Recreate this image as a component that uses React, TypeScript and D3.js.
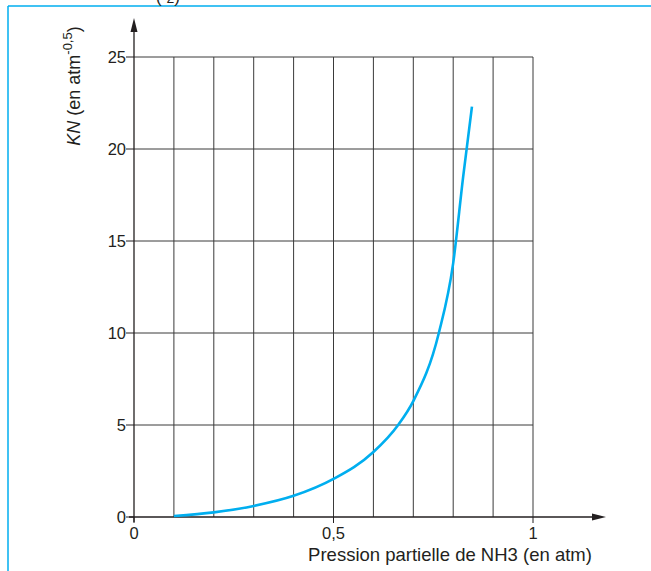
import React from "react";
import * as d3 from "d3";

const pressure = [0.1, 0.2, 0.3, 0.4, 0.5, 0.6, 0.662, 0.7, 0.764, 0.8, 0.825, 0.847];
const kn = [0.05, 0.25, 0.6, 1.15, 2.07, 3.53, 5, 6.3, 10, 13.8, 18.5, 22.3];
const yTicks = [0, 5, 10, 15, 20, 25];
const xGrid = [0.1, 0.2, 0.3, 0.4, 0.5, 0.6, 0.7, 0.8, 0.9, 1.0];
const xTickLabels = [
  { v: 0, label: "0" },
  { v: 0.5, label: "0,5" },
  { v: 1, label: "1" },
];

export default function App() {
  const W = 651, H = 571;
  const x = d3.scaleLinear().domain([0, 1]).range([134, 533]);
  const y = d3.scaleLinear().domain([0, 25]).range([517, 57]);
  const pts = pressure.map((p, i) => [p, kn[i]] as [number, number]);
  const line = d3
    .line<[number, number]>()
    .x((d) => x(d[0]))
    .y((d) => y(d[1]))
    .curve(d3.curveMonotoneX);
  const font = "'Liberation Sans', Arial, sans-serif";
  const axisColor = "#231f20";
  const gridColor = "#3a3a3a";
  return (
    <svg
      width={W}
      height={H}
      style={{ position: "absolute", left: 0, top: 0, background: "#fff" }}
      fontFamily={font}
    >
      {/* frame */}
      <line x1={8} y1={6} x2={W} y2={6} stroke="#00aeef" strokeWidth={1.5} />
      <line x1={8} y1={6} x2={8} y2={H} stroke="#00aeef" strokeWidth={1.5} />
      <text x={156} y={3} fontSize={17} fill={axisColor}>
        (   <tspan fontSize={14}>2</tspan>)
      </text>
      {/* grid */}
      {xGrid.map((v) => (
        <line key={"gx" + v} x1={x(v)} x2={x(v)} y1={y(25)} y2={y(0)} stroke={gridColor} strokeWidth={1} />
      ))}
      {yTicks.filter((t) => t > 0).map((t) => (
        <line key={"gy" + t} x1={x(0)} x2={x(1)} y1={y(t)} y2={y(t)} stroke={gridColor} strokeWidth={1} />
      ))}
      {/* y ticks */}
      {yTicks.map((t) => (
        <g key={"yt" + t}>
          <line x1={x(0) - 8} x2={x(0)} y1={y(t)} y2={y(t)} stroke={axisColor} strokeWidth={1} />
          <text x={x(0) - 8} y={y(t) + 6} fontSize={16.5} textAnchor="end" fill={axisColor}>
            {t}
          </text>
        </g>
      ))}
      {/* x ticks */}
      {xTickLabels.map((t) => (
        <g key={"xt" + t.v}>
          <line x1={x(t.v)} x2={x(t.v)} y1={y(0)} y2={y(0) + 6} stroke={axisColor} strokeWidth={1} />
          <text x={x(t.v)} y={y(0) + 22} fontSize={16.5} textAnchor="middle" fill={axisColor}>
            {t.label}
          </text>
        </g>
      ))}
      {/* axes */}
      <line x1={x(0)} x2={x(0)} y1={y(0) + 5} y2={26} stroke={axisColor} strokeWidth={1.3} />
      <path d={`M${x(0)},18 L${x(0) - 3.5},32 L${x(0) + 3.5},32 Z`} fill={axisColor} />
      <line x1={x(0) - 5} x2={596} y1={y(0)} y2={y(0)} stroke={axisColor} strokeWidth={1.3} />
      <path d={`M606,${y(0)} L592,${y(0) - 3.5} L592,${y(0) + 3.5} Z`} fill={axisColor} />
      {/* curve */}
      <path d={line(pts) || ""} fill="none" stroke="#00aeef" strokeWidth={2.6} />
      {/* labels */}
      <text
        transform={`translate(80,86) rotate(-90)`}
        fontSize={18}
        textAnchor="middle"
        fill={axisColor}
      >
        <tspan fontStyle="italic">KN</tspan> (en atm
        <tspan fontSize={13} dy={-8}>-0,5</tspan>
        <tspan dy={8}>)</tspan>
      </text>
      <text x={450} y={561} fontSize={18.5} textAnchor="middle" fill={axisColor}>
        Pression partielle de NH3 (en atm)
      </text>
    </svg>
  );
}
